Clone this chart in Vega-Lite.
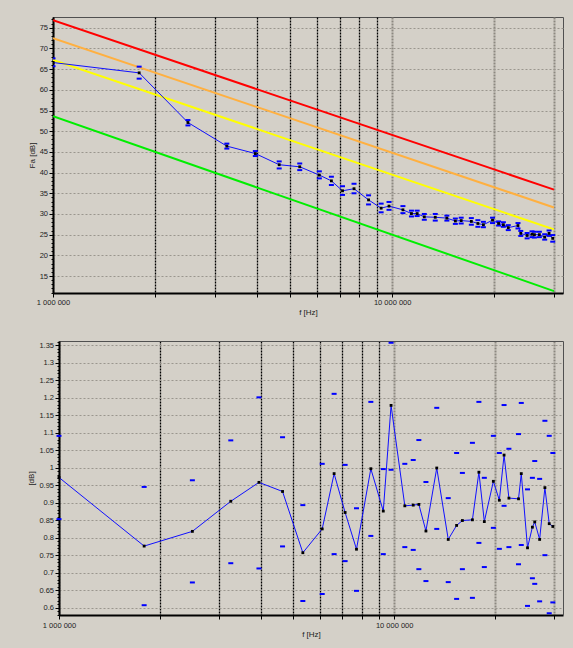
{
  "$schema": "https://vega.github.io/schema/vega-lite/v6.json",
  "background": "#d4d0c8",
  "padding": {"left": 27, "top": 14, "right": 11, "bottom": 13},
  "spacing": 20,
  "config": {
    "view": {"stroke": "#505050", "strokeWidth": 1},
    "axis": {
      "labelFont": "Liberation Sans", "titleFont": "Liberation Sans",
      "labelFontSize": 7.5, "titleFontSize": 8, "titleFontWeight": "normal",
      "labelColor": "#222222", "titleColor": "#222222",
      "domainColor": "#000000", "domainWidth": 2, "tickColor": "#000000",
      "tickCount": 200
    }
  },
  "datasets": {
    "zones": [
      {"f": 1000000, "fa": 76.8, "zone": "city"},
      {"f": 30000000, "fa": 35.88, "zone": "city"},
      {"f": 1000000, "fa": 72.5, "zone": "residential"},
      {"f": 30000000, "fa": 31.58, "zone": "residential"},
      {"f": 1000000, "fa": 67.2, "zone": "rural"},
      {"f": 30000000, "fa": 26.28, "zone": "rural"},
      {"f": 1000000, "fa": 53.6, "zone": "quiet rural"},
      {"f": 30000000, "fa": 11.36, "zone": "quiet rural"}
    ],
    "meas": [
      {"f": 1000000, "fa": 66.6, "fa_lo": 65.7, "fa_hi": 67.6, "r": 0.972, "r_lo": 0.853, "r_hi": 1.091},
      {"f": 1795000, "fa": 64.1, "fa_lo": 62.7, "fa_hi": 65.6, "r": 0.776, "r_lo": 0.607, "r_hi": 0.945},
      {"f": 2500000, "fa": 52.1, "fa_lo": 51.4, "fa_hi": 52.7, "r": 0.818, "r_lo": 0.672, "r_hi": 0.964},
      {"f": 3255000, "fa": 46.4, "fa_lo": 45.8, "fa_hi": 47.0, "r": 0.904, "r_lo": 0.727, "r_hi": 1.078},
      {"f": 3950000, "fa": 44.6, "fa_lo": 44.0, "fa_hi": 45.2, "r": 0.958, "r_lo": 0.712, "r_hi": 1.201},
      {"f": 4645000, "fa": 41.9, "fa_lo": 41.0, "fa_hi": 42.7, "r": 0.932, "r_lo": 0.775, "r_hi": 1.087},
      {"f": 5340000, "fa": 41.4, "fa_lo": 40.6, "fa_hi": 42.2, "r": 0.757, "r_lo": 0.619, "r_hi": 0.893},
      {"f": 6100000, "fa": 39.4, "fa_lo": 38.6, "fa_hi": 40.3, "r": 0.825, "r_lo": 0.639, "r_hi": 1.011},
      {"f": 6620000, "fa": 38.0, "fa_lo": 37.0, "fa_hi": 39.0, "r": 0.983, "r_lo": 0.753, "r_hi": 1.211},
      {"f": 7140000, "fa": 35.6, "fa_lo": 34.6, "fa_hi": 36.7, "r": 0.872, "r_lo": 0.733, "r_hi": 1.008},
      {"f": 7720000, "fa": 36.1, "fa_lo": 35.0, "fa_hi": 37.3, "r": 0.767, "r_lo": 0.648, "r_hi": 0.884},
      {"f": 8520000, "fa": 33.4, "fa_lo": 32.3, "fa_hi": 34.5, "r": 0.997, "r_lo": 0.805, "r_hi": 1.188},
      {"f": 9280000, "fa": 31.4, "fa_lo": 30.4, "fa_hi": 32.5, "r": 0.876, "r_lo": 0.753, "r_hi": 0.996},
      {"f": 9790000, "fa": 31.9, "fa_lo": 31.0, "fa_hi": 32.9, "r": 1.178, "r_lo": 0.994, "r_hi": 1.357},
      {"f": 10760000, "fa": 31.0, "fa_lo": 30.2, "fa_hi": 31.9, "r": 0.891, "r_lo": 0.773, "r_hi": 1.011},
      {"f": 11400000, "fa": 30.1, "fa_lo": 29.4, "fa_hi": 30.8, "r": 0.893, "r_lo": 0.765, "r_hi": 1.022},
      {"f": 11850000, "fa": 30.1, "fa_lo": 29.5, "fa_hi": 30.8, "r": 0.895, "r_lo": 0.71, "r_hi": 1.079},
      {"f": 12440000, "fa": 29.3, "fa_lo": 28.6, "fa_hi": 30.0, "r": 0.819, "r_lo": 0.676, "r_hi": 0.959},
      {"f": 13400000, "fa": 29.2, "fa_lo": 28.4, "fa_hi": 30.0, "r": 0.999, "r_lo": 0.825, "r_hi": 1.171},
      {"f": 14500000, "fa": 29.0, "fa_lo": 28.4, "fa_hi": 29.6, "r": 0.795, "r_lo": 0.673, "r_hi": 0.913},
      {"f": 15360000, "fa": 28.3, "fa_lo": 27.6, "fa_hi": 28.9, "r": 0.835, "r_lo": 0.625, "r_hi": 1.042},
      {"f": 15980000, "fa": 28.4, "fa_lo": 27.7, "fa_hi": 29.1, "r": 0.849, "r_lo": 0.71, "r_hi": 0.985},
      {"f": 17120000, "fa": 28.2, "fa_lo": 27.4, "fa_hi": 29.0, "r": 0.851, "r_lo": 0.628, "r_hi": 1.071},
      {"f": 17900000, "fa": 27.7, "fa_lo": 26.9, "fa_hi": 28.5, "r": 0.987, "r_lo": 0.785, "r_hi": 1.188},
      {"f": 18580000, "fa": 27.4, "fa_lo": 26.8, "fa_hi": 28.1, "r": 0.846, "r_lo": 0.716, "r_hi": 0.971},
      {"f": 19770000, "fa": 28.5, "fa_lo": 27.8, "fa_hi": 29.1, "r": 0.961, "r_lo": 0.828, "r_hi": 1.091},
      {"f": 20600000, "fa": 27.7, "fa_lo": 27.2, "fa_hi": 28.2, "r": 0.907, "r_lo": 0.768, "r_hi": 1.042},
      {"f": 21280000, "fa": 27.4, "fa_lo": 26.9, "fa_hi": 28.0, "r": 1.036, "r_lo": 0.891, "r_hi": 1.179},
      {"f": 22000000, "fa": 26.7, "fa_lo": 26.1, "fa_hi": 27.3, "r": 0.913, "r_lo": 0.773, "r_hi": 1.054},
      {"f": 23500000, "fa": 27.2, "fa_lo": 26.5, "fa_hi": 27.8, "r": 0.911, "r_lo": 0.724, "r_hi": 1.096},
      {"f": 23950000, "fa": 25.3, "fa_lo": 24.7, "fa_hi": 25.9, "r": 0.983, "r_lo": 0.779, "r_hi": 1.185},
      {"f": 25000000, "fa": 24.8, "fa_lo": 24.1, "fa_hi": 25.4, "r": 0.771, "r_lo": 0.605, "r_hi": 0.938},
      {"f": 25850000, "fa": 25.1, "fa_lo": 24.4, "fa_hi": 25.8, "r": 0.83, "r_lo": 0.684, "r_hi": 0.971},
      {"f": 26270000, "fa": 25.0, "fa_lo": 24.3, "fa_hi": 25.7, "r": 0.845, "r_lo": 0.668, "r_hi": 1.019},
      {"f": 27170000, "fa": 25.0, "fa_lo": 24.4, "fa_hi": 25.7, "r": 0.795, "r_lo": 0.618, "r_hi": 0.968},
      {"f": 28170000, "fa": 24.4, "fa_lo": 23.8, "fa_hi": 25.1, "r": 0.943, "r_lo": 0.75, "r_hi": 1.134},
      {"f": 29020000, "fa": 25.3, "fa_lo": 24.7, "fa_hi": 26.0, "r": 0.84, "r_lo": 0.584, "r_hi": 1.091},
      {"f": 29750000, "fa": 24.1, "fa_lo": 23.3, "fa_hi": 24.9, "r": 0.832, "r_lo": 0.615, "r_hi": 1.042}
    ]
  },
  "vconcat": [
    {
      "width": 510,
      "height": 276,
      "layer": [
        {
          "data": {"name": "zones"},
          "mark": {"type": "line", "strokeWidth": 2, "clip": true},
          "encoding": {
            "x": {
              "field": "f", "type": "quantitative",
              "scale": {"type": "log", "domain": [1000000, 31900000], "nice": false},
              "axis": {
                "values": [1000000, 2000000, 3000000, 4000000, 5000000, 6000000, 7000000, 8000000, 9000000, 10000000, 20000000, 30000000],
                "labelExpr": "datum.value == 1000000 ? '1 000 000' : (datum.value == 10000000 ? '10 000 000' : '')",
                "labelFlush": false, "labelOverlap": false,
                "title": "f [Hz]", "titlePadding": 2, "labelPadding": 1.5, "tickSize": 4,
                "grid": true,
                "gridColor": {"condition": {"test": "datum.value < 10000000", "value": "#000000"}, "value": "#8c8880"},
                "gridWidth": {"condition": {"test": "datum.value < 10000000", "value": 1.3}, "value": 2},
                "gridDash": [2, 1]
              }
            },
            "y": {
              "field": "fa", "type": "quantitative",
              "scale": {"domain": [10.9, 77.6], "nice": false, "zero": false},
              "axis": {
                "values": [11,12,13,14,15,16,17,18,19,20,21,22,23,24,25,26,27,28,29,30,31,32,33,34,35,36,37,38,39,40,41,42,43,44,45,46,47,48,49,50,51,52,53,54,55,56,57,58,59,60,61,62,63,64,65,66,67,68,69,70,71,72,73,74,75,76,77],
                "labelExpr": "datum.value % 5 == 0 ? format(datum.value, 'd') : ''",
                "labelOverlap": false,
                "title": "Fa [dB]", "titlePadding": 3, "labelPadding": 1.5,
                "tickSize": {"condition": {"test": "datum.value % 5 == 0", "value": 4}, "value": 2},
                "grid": true,
                "gridOpacity": {"condition": {"test": "datum.value % 5 == 0", "value": 1}, "value": 0},
                "gridColor": "#9a968e", "gridDash": [2, 2], "gridWidth": 1
              }
            },
            "color": {
              "field": "zone", "type": "nominal",
              "scale": {"domain": ["city", "residential", "rural", "quiet rural"], "range": ["#ff0000", "#ffb040", "#ffff00", "#00ee00"]},
              "legend": null
            }
          }
        },
        {
          "data": {"name": "meas"},
          "mark": {"type": "line", "color": "#1010ff", "strokeWidth": 1, "clip": true},
          "encoding": {
            "x": {"field": "f", "type": "quantitative"},
            "y": {"field": "fa", "type": "quantitative"}
          }
        },
        {
          "data": {"name": "meas"},
          "mark": {"type": "tick", "orient": "horizontal", "color": "#0000ff", "size": 5, "thickness": 2, "opacity": 1, "clip": true},
          "encoding": {
            "x": {"field": "f", "type": "quantitative"},
            "y": {"field": "fa_lo", "type": "quantitative"}
          }
        },
        {
          "data": {"name": "meas"},
          "mark": {"type": "tick", "orient": "horizontal", "color": "#0000ff", "size": 5, "thickness": 2, "opacity": 1, "clip": true},
          "encoding": {
            "x": {"field": "f", "type": "quantitative"},
            "y": {"field": "fa_hi", "type": "quantitative"}
          }
        },
        {
          "data": {"name": "meas"},
          "mark": {"type": "point", "shape": "square", "filled": true, "color": "#000000", "size": 8, "opacity": 1, "clip": true},
          "encoding": {
            "x": {"field": "f", "type": "quantitative"},
            "y": {"field": "fa", "type": "quantitative"}
          }
        }
      ]
    },
    {
      "width": 510,
      "height": 274,
      "view": {"stroke": null},
      "data": {"name": "meas"},
      "resolve": {"axis": {"x": "independent", "y": "independent"}},
      "layer": [
        {
          "mark": {"type": "line", "color": "#1010ff", "strokeWidth": 1, "clip": true},
          "encoding": {
            "x": {
              "field": "f", "type": "quantitative",
              "scale": {"type": "log", "domain": [1000000, 31900000], "nice": false, "range": [6, 510]},
              "axis": {
                "values": [1000000, 2000000, 3000000, 4000000, 5000000, 6000000, 7000000, 8000000, 9000000, 10000000, 20000000, 30000000],
                "labelExpr": "datum.value == 1000000 ? '1 000 000' : (datum.value == 10000000 ? '10 000 000' : '')",
                "labelFlush": false, "labelOverlap": false,
                "title": "f [Hz]", "titlePadding": 1.5, "labelPadding": 2.5, "tickSize": 4,
                "grid": true,
                "gridColor": {"condition": {"test": "datum.value < 10000000", "value": "#000000"}, "value": "#8c8880"},
                "gridWidth": {"condition": {"test": "datum.value < 10000000", "value": 1.3}, "value": 2},
                "gridDash": [2, 1]
              }
            },
            "y": {
              "field": "r", "type": "quantitative",
              "scale": {"domain": [0.579, 1.362], "nice": false, "zero": false},
              "axis": {
                "offset": -6,
                "values": [0.58,0.59,0.6,0.61,0.62,0.63,0.64,0.65,0.66,0.67,0.68,0.69,0.7,0.71,0.72,0.73,0.74,0.75,0.76,0.77,0.78,0.79,0.8,0.81,0.82,0.83,0.84,0.85,0.86,0.87,0.88,0.89,0.9,0.91,0.92,0.93,0.94,0.95,0.96,0.97,0.98,0.99,1,1.01,1.02,1.03,1.04,1.05,1.06,1.07,1.08,1.09,1.1,1.11,1.12,1.13,1.14,1.15,1.16,1.17,1.18,1.19,1.2,1.21,1.22,1.23,1.24,1.25,1.26,1.27,1.28,1.29,1.3,1.31,1.32,1.33,1.34,1.35,1.36],
                "labelExpr": "abs(datum.value * 20 - round(datum.value * 20)) < 0.001 ? format(datum.value, '~g') : ''",
                "labelOverlap": false,
                "title": "[dB]", "titlePadding": 3, "labelPadding": 1.5,
                "tickSize": {"condition": {"test": "abs(datum.value * 20 - round(datum.value * 20)) < 0.001", "value": 4}, "value": 2},
                "grid": true,
                "gridOpacity": {"condition": {"test": "abs(datum.value * 20 - round(datum.value * 20)) < 0.001", "value": 1}, "value": 0},
                "gridColor": "#9a968e", "gridDash": [2, 2], "gridWidth": 1
              }
            }
          }
        },
        {
          "mark": {"type": "tick", "orient": "horizontal", "color": "#0000ff", "size": 5, "thickness": 2, "opacity": 1, "clip": true},
          "encoding": {
            "x": {"field": "f", "type": "quantitative", "axis": null},
            "y": {"field": "r_lo", "type": "quantitative", "axis": null}
          }
        },
        {
          "mark": {"type": "tick", "orient": "horizontal", "color": "#0000ff", "size": 5, "thickness": 2, "opacity": 1, "clip": true},
          "encoding": {
            "x": {"field": "f", "type": "quantitative", "axis": null},
            "y": {"field": "r_hi", "type": "quantitative", "axis": null}
          }
        },
        {
          "mark": {"type": "point", "shape": "square", "filled": true, "color": "#000000", "size": 8, "opacity": 1, "clip": true},
          "encoding": {
            "x": {"field": "f", "type": "quantitative", "axis": {"orient": "top", "labels": false, "ticks": false, "grid": false, "title": null, "domainColor": "#505050", "domainWidth": 1}},
            "y": {"field": "r", "type": "quantitative", "axis": {"orient": "right", "labels": false, "ticks": false, "grid": false, "title": null, "domainColor": "#505050", "domainWidth": 1}}
          }
        }
      ]
    }
  ]
}
